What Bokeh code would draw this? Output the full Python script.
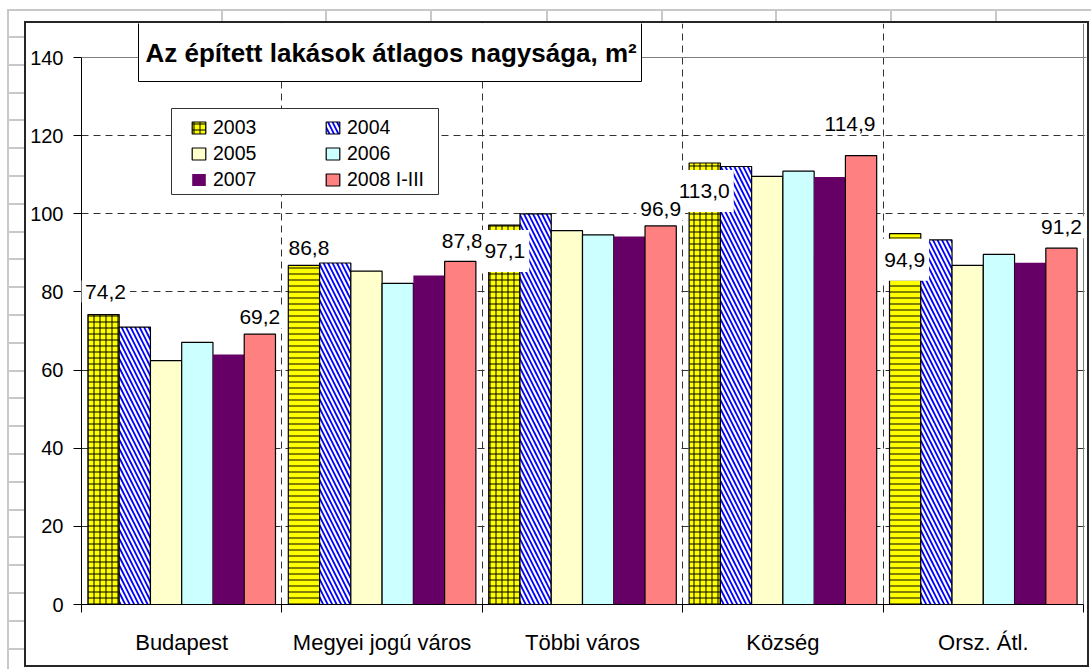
from bokeh.plotting import figure
from bokeh.models import (ColumnDataSource, FixedTicker, BoxAnnotation, Label,
                          Legend, LegendItem, Range1d, Grid)
from bokeh.embed import file_html
from bokeh.resources import INLINE

# ---------------- data ----------------
categories = ["Budapest", "Megyei jogú város", "Többi város", "Község", "Orsz. Átl."]
series_names = ["2003", "2004", "2005", "2006", "2007", "2008 I-III"]
v2003 = [74.2, 86.8, 97.1, 113.0, 94.9]
v2004 = [71.0, 87.4, 100.0, 112.1, 93.3]
v2005 = [62.4, 85.3, 95.7, 109.6, 86.8]
v2006 = [67.1, 82.2, 94.6, 110.9, 89.6]
v2007 = [64.0, 84.2, 94.2, 109.4, 87.5]
v2008 = [69.2, 87.8, 96.9, 114.9, 91.2]
y_ticks = [0, 20, 40, 60, 80, 100, 120, 140]
title_text = "Az épített lakások átlagos nagysága, m²"

series_values = [v2003, v2004, v2005, v2006, v2007, v2008]

# ---------------- styles / layout ----------------
FONT = "Liberation Sans"
fills = ["#FFFF00", "#FFFFFF", "#FFFFCC", "#CCFFFF", "#660066", "#FF8080"]
pat2003 = ["+", "-", "+", "+", "-"]
BAR_W = 0.156

W, H = 1091, 669
PA_L, PA_R, PA_T, PA_B = 81, 1083, 57, 604     # plot area (page px)
FR_R, FR_T = 1086, 23                            # frame extends to chart border
YMAX, XMAX = 140, 5
x_end = XMAX * (FR_R - PA_L) / (PA_R - PA_L)
y_end = YMAX * (PA_B - FR_T) / (PA_B - PA_T)


def sx(px):
    return px - PA_L


def sy(py):
    return PA_B - py


def page_box(x0, y0, x1, y1, fill=None, line=None, lw=1.0):
    return BoxAnnotation(left=sx(x0), right=sx(x1), top=sy(y0), bottom=sy(y1),
                         left_units="screen", right_units="screen",
                         top_units="screen", bottom_units="screen",
                         fill_color=fill, fill_alpha=1.0 if fill else 0.0,
                         line_color=line, line_width=lw, line_alpha=1.0 if line else 0.0)


# spreadsheet background + chart area border, painted with CSS behind the canvas
GRAY = "#C8C8C8"
layers = [(GRAY, 8, 9, W - 8, 2), (GRAY, 7, 9, 2, H - 9)]
for cx in [222, 326, 431, 547, 662, 776, 891, 996]:
    layers.append((GRAY, cx - 1, 10, 2, 11))
ry = 37.0
while ry < H:
    layers.append((GRAY, 8, int(round(ry)) - 1, 16, 2))
    ry += 27.8
layers.append(("#FFFFFF", 26, 23, 1061, 642))
layers.append(("#262626", 24, 21, 1065, 646))
css = {
    "background-color": "white",
    "background-image": ", ".join(f"linear-gradient({c},{c})" for c, *_ in layers),
    "background-size": ", ".join(f"{w}px {h}px" for _, _, _, w, h in layers),
    "background-position": ", ".join(f"{x}px {y}px" for _, x, y, _, _ in layers),
    "background-repeat": "no-repeat",
}

p = figure(width=W, height=H, x_range=Range1d(0, x_end), y_range=Range1d(0, y_end),
           output_backend="svg", toolbar_location=None,
           min_border_left=PA_L, min_border_right=W - FR_R, min_border_top=FR_T,
           min_border_bottom=H - PA_B,
           background_fill_color="white", border_fill_color=None, styles=css)

# ---------------- bars ----------------
renderers = []
for k, (name, vals) in enumerate(zip(series_names, series_values)):
    off = (k - 2.5) * BAR_W
    src = ColumnDataSource(dict(x=[i + 0.5 + off for i in range(len(categories))], top=vals,
                                pat=pat2003 if k == 0 else ["\\"] * len(vals)))
    kw = dict(x="x", top="top", bottom=0, width=BAR_W, source=src, fill_color=fills[k],
              line_color="black", line_width=1.2)
    if k == 0:
        kw.update(hatch_pattern="pat", hatch_color="black", hatch_scale=6, hatch_weight=1)
    elif k == 1:
        kw.update(hatch_pattern="pat", hatch_color="#0000FF", hatch_scale=9, hatch_weight=1.8)
    elif k == 4:
        kw.update(line_color=fills[k], line_alpha=0.0)
    renderers.append(p.vbar(**kw))

# ---------------- axes / grid ----------------
p.xaxis.ticker = FixedTicker(ticks=[i + 0.5 for i in range(len(categories))],
                             minor_ticks=list(range(len(categories) + 1)))
p.xaxis.major_label_overrides = {i + 0.5: c for i, c in enumerate(categories)}
p.xaxis.bounds = (0, XMAX)
p.xaxis.major_tick_line_color = None
p.xaxis.major_tick_out = 0
p.xaxis.major_tick_in = 0
p.xaxis.minor_tick_out = 8
p.xaxis.minor_tick_in = 0
p.xaxis.minor_tick_line_color = "black"
p.xaxis.major_label_standoff = 17
p.xaxis.major_label_text_font_size = "22px"

p.yaxis.ticker = FixedTicker(ticks=y_ticks, minor_ticks=[])
p.yaxis.bounds = (0, YMAX)
p.yaxis.major_tick_out = 8
p.yaxis.major_tick_in = 0
p.yaxis.minor_tick_line_color = None
p.yaxis.major_label_standoff = 10
p.yaxis.major_tick_line_color = "black"
p.yaxis.major_label_text_font_size = "20px"

for ax in (p.xaxis, p.yaxis):
    ax.axis_line_color = "black"
    ax.major_label_text_font = FONT
    ax.major_label_text_color = "black"

p.ygrid.ticker = FixedTicker(ticks=y_ticks[1:-1])
p.ygrid.bounds = (0, XMAX)
p.xgrid.ticker = FixedTicker(ticks=list(range(1, len(categories))))
p.xgrid.bounds = (0, YMAX)
for g in (p.xgrid, p.ygrid):
    g.grid_line_color = "#333333"
    g.grid_line_dash = "7 5"
    g.grid_line_width = 1

# plot-area edges (top and right), thin gray
p.add_layout(Grid(dimension=1, ticker=FixedTicker(ticks=[YMAX]), bounds=(0, XMAX),
                  grid_line_color="#808080", grid_line_width=1))
p.add_layout(Grid(dimension=0, ticker=FixedTicker(ticks=[XMAX]), bounds=(0, YMAX),
                  grid_line_color="#808080", grid_line_width=1))
p.outline_line_color = None

# ---------------- title ----------------
p.add_layout(page_box(138, 21, 641, 81, fill="white", line="black", lw=1))
p.add_layout(Label(x=sx(145), y=sy(52), x_units="screen", y_units="screen",
                   text=title_text, text_font=FONT, text_font_style="bold",
                   text_font_size="26px", text_color="black", text_baseline="middle",
                   text_align="left"))

# ---------------- legend ----------------
p.add_layout(page_box(171, 108, 438, 194, fill="white", line="#333333", lw=1))
leg_common = dict(label_text_font=FONT, label_text_font_size="19.5px", label_text_color="black",
                  glyph_width=17, glyph_height=15, label_standoff=6, label_height=26,
                  spacing=0, padding=0, margin=0, border_line_color=None,
                  background_fill_alpha=0.0, orientation="vertical")
leg1 = Legend(items=[LegendItem(label=series_names[k], renderers=[renderers[k]]) for k in (0, 2, 4)],
              location=(sx(190), sy(192)), **leg_common)
leg2 = Legend(items=[LegendItem(label=series_names[k], renderers=[renderers[k]]) for k in (1, 3, 5)],
              location=(sx(324), sy(192)), **leg_common)
p.add_layout(leg1)
p.add_layout(leg2)


# ---------------- data labels ----------------
def fmt(v):
    return f"{v:.1f}".replace(".", ",")


small = dict(left=4, right=4, top=4, bottom=4)
tall = dict(left=3, right=4, top=14, bottom=14)
# index 0-4: 2003 series, 5-9: 2008 series
lab_x = [i + 0.5 - 2.5 * BAR_W for i in range(5)] + [i + 0.5 + 2.5 * BAR_W for i in range(5)]
lab_y = v2003 + v2008
lab_dx = [2, 5, 1, 0, 0] + [0, 2, 0, -11, 0]
lab_dy = [23, 17, -26, -28, -26] + [17, 20, 17, 32, 21]
lab_pad = [small, small, tall, tall, tall] + [small] * 5
draw_order = [3, 5, 6, 7, 8, 9, 0, 1, 2, 4]
for j in draw_order:
    p.add_layout(Label(x=lab_x[j], y=lab_y[j], x_offset=lab_dx[j], y_offset=lab_dy[j],
                       text=fmt(lab_y[j]),
                       text_font=FONT, text_font_size="21px", text_color="black",
                       text_align="center", text_baseline="middle",
                       background_fill_color="white", background_fill_alpha=1.0,
                       padding=lab_pad[j]))

open("out.html", "w").write(file_html(p, INLINE))
